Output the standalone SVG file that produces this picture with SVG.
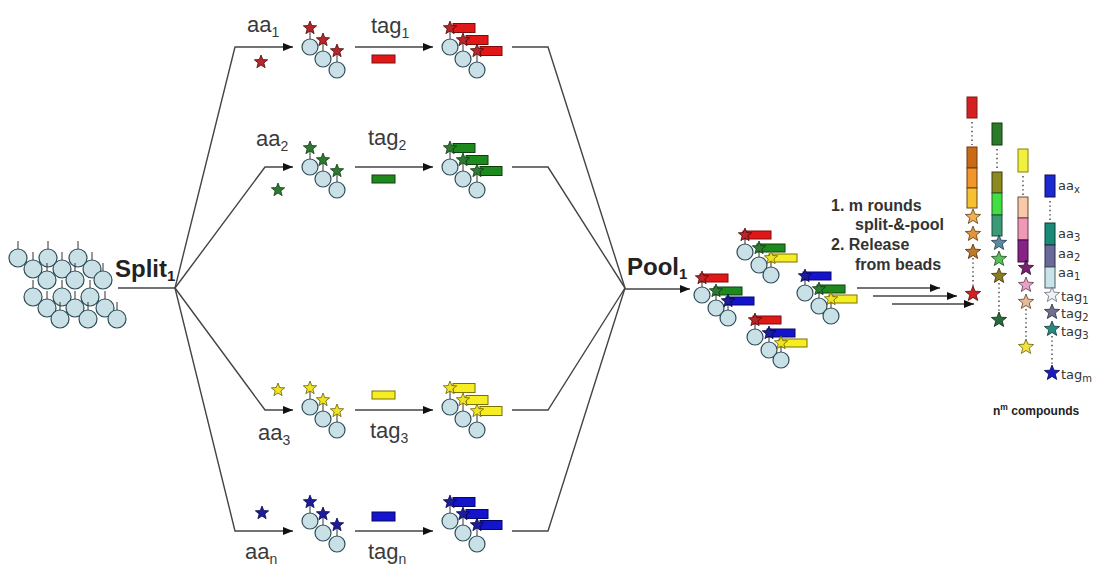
<svg xmlns="http://www.w3.org/2000/svg" xmlns:xlink="http://www.w3.org/1999/xlink" width="1101" height="568" viewBox="0 0 1101 568">
<style>
  .ln{fill:none;stroke:#444;stroke-width:1.4}
  .arr{marker-end:url(#ah)}
  .bead{fill:#c9e1e6;stroke:#2f4d58;stroke-width:1.2}
  .stem{stroke:#333;stroke-width:1}
  .dots{stroke:#555;stroke-width:1.6;stroke-dasharray:1.4 3}
  .lbl{font-family:"Liberation Sans",Arial,sans-serif;font-size:22px;fill:#3a3a3a}
  .big{font-family:"Liberation Sans",Arial,sans-serif;font-size:24px;font-weight:bold;fill:#222}
  .note{font-family:"Liberation Sans",Arial,sans-serif;font-size:16px;font-weight:bold;fill:#333}
  .sm{font-family:"DejaVu Sans",Verdana,sans-serif;font-size:13px;fill:#333}
  .cR{fill:#b8262c;stroke:#4a0a0a;stroke-width:0.8}
  .cG{fill:#2e7a32;stroke:#123a14;stroke-width:0.8}
  .cY{fill:#eee424;stroke:#6a5e00;stroke-width:0.8}
  .cB{fill:#1c1c9c;stroke:#08084a;stroke-width:0.8}
  .tR{fill:#e01818;stroke:#7a0e0e;stroke-width:1}
  .tG{fill:#1e8a1e;stroke:#0a400a;stroke-width:1}
  .tY{fill:#f6ee22;stroke:#7a7000;stroke-width:1}
  .tB{fill:#1414cc;stroke:#06066a;stroke-width:1}
  .blk{stroke-width:1}
</style>
<defs>
  <marker id="ah" markerUnits="userSpaceOnUse" markerWidth="10" markerHeight="8" refX="10" refY="4" orient="auto">
    <path d="M0,0 L10,4 L0,8 Z" fill="#111"/>
  </marker>
  <path id="star" d="M0,-7 L1.76,-2.43 6.66,-2.16 2.85,0.93 4.11,5.66 0,3 -4.11,5.66 -2.85,0.93 -6.66,-2.16 -1.76,-2.43Z"/>
  <path id="starL" d="M0,-8 L2,-2.8 7.6,-2.5 3.25,1.06 4.7,6.47 0,3.45 -4.7,6.47 -3.25,1.06 -7.6,-2.5 -2,-2.8Z"/>
  <circle id="bd" class="bead" r="8"/>
  <!-- three beads in a diagonal chain, each with a linker stem -->
  <g id="trio">
    <path class="stem" d="M0,-8V-19M13,4V-7M27,15V4"/>
    <use xlink:href="#bd"/>
    <use xlink:href="#bd" x="13" y="12"/>
    <use xlink:href="#bd" x="27" y="23"/>
  </g>
  <g id="ptrio">
    <path class="stem" d="M0,-8V-17M14,5V-4M26,15V6"/>
    <use xlink:href="#bd"/>
    <use xlink:href="#bd" x="14" y="13"/>
    <use xlink:href="#bd" x="26" y="23"/>
  </g>
  <!-- loose bead of the starting pile -->
  <g id="pb">
    <line class="stem" y1="-9" y2="-17"/>
    <circle class="bead" r="9"/>
  </g>
</defs>

<rect width="1101" height="568" fill="#fff"/>

<!-- starting bead pile -->
<g id="pile">
  <use xlink:href="#pb" x="18" y="258"/><use xlink:href="#pb" x="48" y="258"/><use xlink:href="#pb" x="78" y="258"/>
  <use xlink:href="#pb" x="33" y="269"/><use xlink:href="#pb" x="62" y="269"/><use xlink:href="#pb" x="92" y="269"/>
  <use xlink:href="#pb" x="47" y="280"/><use xlink:href="#pb" x="75" y="280"/><use xlink:href="#pb" x="103" y="280"/>
  <use xlink:href="#pb" x="33" y="297"/><use xlink:href="#pb" x="62" y="297"/><use xlink:href="#pb" x="90" y="297"/>
  <use xlink:href="#pb" x="47" y="308"/><use xlink:href="#pb" x="75" y="308"/><use xlink:href="#pb" x="105" y="308"/>
  <use xlink:href="#pb" x="60" y="319"/><use xlink:href="#pb" x="88" y="319"/><use xlink:href="#pb" x="117" y="319"/>
</g>

<g id="split">
  <text class="big" x="115" y="277">Split<tspan font-size="15" dy="4">1</tspan></text>
</g>
<g id="pool">
  <text class="big" x="627" y="275">Pool<tspan font-size="15" dy="4">1</tspan></text>
</g>

<!-- connectors -->
<g id="connectors">
  <path class="ln" d="M118,288 H175"/>
  <path class="ln arr" d="M175,288 L235,47 H293"/>
  <path class="ln arr" d="M175,288 L265,167 H293"/>
  <path class="ln arr" d="M175,288 L265,410 H293"/>
  <path class="ln arr" d="M175,288 L235,531 H293"/>
  <path class="ln arr" d="M355,47 H433"/>
  <path class="ln arr" d="M355,167 H433"/>
  <path class="ln arr" d="M355,410 H433"/>
  <path class="ln arr" d="M355,531 H433"/>
  <path class="ln" d="M512,47 H548 L625,288"/>
  <path class="ln" d="M512,167 H548 L625,288"/>
  <path class="ln" d="M512,410 H548 L625,288"/>
  <path class="ln" d="M512,531 H548 L625,288"/>
  <path class="ln arr" d="M625,289 H690"/>
  <path class="ln arr" d="M857,288 H940"/>
  <path class="ln arr" d="M873,296 H957"/>
  <path class="ln arr" d="M892,304 H974"/>
</g>

<!-- branch 1 -->
<g id="row1">
  <text class="lbl" x="247" y="32">aa<tspan font-size="14" dy="5">1</tspan></text>
  <use xlink:href="#star" class="cR" x="261" y="62"/>
  <text class="lbl" x="371" y="33">tag<tspan font-size="14" dy="5">1</tspan></text>
  <rect class="tR" x="372" y="55" width="23" height="8"/>
  <g transform="translate(310,47)">
    <use xlink:href="#trio"/>
    <use xlink:href="#star" class="cR" y="-19"/><use xlink:href="#star" class="cR" x="13" y="-7"/><use xlink:href="#star" class="cR" x="27" y="4"/>
  </g>
  <g transform="translate(450,47)">
    <use xlink:href="#trio"/>
    <rect class="tR" x="3" y="-23.5" width="22" height="9"/><rect class="tR" x="16" y="-11.5" width="22" height="9"/><rect class="tR" x="30" y="-0.5" width="22" height="9"/>
    <use xlink:href="#star" class="cR" y="-19"/><use xlink:href="#star" class="cR" x="13" y="-7"/><use xlink:href="#star" class="cR" x="27" y="4"/>
  </g>
</g>

<!-- branch 2 -->
<g id="row2">
  <text class="lbl" x="256" y="146">aa<tspan font-size="14" dy="5">2</tspan></text>
  <use xlink:href="#star" class="cG" x="278" y="190"/>
  <text class="lbl" x="368" y="145">tag<tspan font-size="14" dy="5">2</tspan></text>
  <rect class="tG" x="372" y="175" width="23" height="8"/>
  <g transform="translate(310,167)">
    <use xlink:href="#trio"/>
    <use xlink:href="#star" class="cG" y="-19"/><use xlink:href="#star" class="cG" x="13" y="-7"/><use xlink:href="#star" class="cG" x="27" y="4"/>
  </g>
  <g transform="translate(450,167)">
    <use xlink:href="#trio"/>
    <rect class="tG" x="3" y="-23.5" width="22" height="9"/><rect class="tG" x="16" y="-11.5" width="22" height="9"/><rect class="tG" x="30" y="-0.5" width="22" height="9"/>
    <use xlink:href="#star" class="cG" y="-19"/><use xlink:href="#star" class="cG" x="13" y="-7"/><use xlink:href="#star" class="cG" x="27" y="4"/>
  </g>
</g>

<!-- branch 3 -->
<g id="row3">
  <text class="lbl" x="258" y="440">aa<tspan font-size="14" dy="5">3</tspan></text>
  <use xlink:href="#star" class="cY" x="278" y="390"/>
  <text class="lbl" x="370" y="438">tag<tspan font-size="14" dy="5">3</tspan></text>
  <rect class="tY" x="372" y="391" width="23" height="8"/>
  <g transform="translate(310,407)">
    <use xlink:href="#trio"/>
    <use xlink:href="#star" class="cY" y="-19"/><use xlink:href="#star" class="cY" x="13" y="-7"/><use xlink:href="#star" class="cY" x="27" y="4"/>
  </g>
  <g transform="translate(450,407)">
    <use xlink:href="#trio"/>
    <rect class="tY" x="3" y="-23.5" width="22" height="9"/><rect class="tY" x="16" y="-11.5" width="22" height="9"/><rect class="tY" x="30" y="-0.5" width="22" height="9"/>
    <use xlink:href="#star" class="cY" y="-19"/><use xlink:href="#star" class="cY" x="13" y="-7"/><use xlink:href="#star" class="cY" x="27" y="4"/>
  </g>
</g>

<!-- branch n -->
<g id="rowN">
  <text class="lbl" x="245" y="559">aa<tspan font-size="14" dy="5">n</tspan></text>
  <use xlink:href="#star" class="cB" x="262" y="513"/>
  <text class="lbl" x="368" y="559">tag<tspan font-size="14" dy="5">n</tspan></text>
  <rect class="tB" x="372" y="512" width="23" height="9"/>
  <g transform="translate(310,521)">
    <use xlink:href="#trio"/>
    <use xlink:href="#star" class="cB" y="-19"/><use xlink:href="#star" class="cB" x="13" y="-7"/><use xlink:href="#star" class="cB" x="27" y="4"/>
  </g>
  <g transform="translate(450,521)">
    <use xlink:href="#trio"/>
    <rect class="tB" x="3" y="-23.5" width="22" height="9"/><rect class="tB" x="16" y="-11.5" width="22" height="9"/><rect class="tB" x="30" y="-0.5" width="22" height="9"/>
    <use xlink:href="#star" class="cB" y="-19"/><use xlink:href="#star" class="cB" x="13" y="-7"/><use xlink:href="#star" class="cB" x="27" y="4"/>
  </g>
</g>

<!-- pooled beads carrying mixed building blocks -->
<g id="pooled">
  <g transform="translate(745,252)">
    <use xlink:href="#ptrio"/>
    <rect class="tR" x="-2" y="-21" width="28" height="8"/><rect class="tG" x="12" y="-8" width="28" height="8"/><rect class="tY" x="24" y="2" width="28" height="8"/>
    <use xlink:href="#star" class="cR" y="-17"/><use xlink:href="#star" class="cG" x="14" y="-4"/><use xlink:href="#star" class="cY" x="26" y="6"/>
  </g>
  <g transform="translate(702,295)">
    <use xlink:href="#ptrio"/>
    <rect class="tR" x="-2" y="-21" width="28" height="8"/><rect class="tG" x="12" y="-8" width="28" height="8"/><rect class="tB" x="24" y="2" width="28" height="8"/>
    <use xlink:href="#star" class="cR" y="-17"/><use xlink:href="#star" class="cG" x="14" y="-4"/><use xlink:href="#star" class="cB" x="26" y="6"/>
  </g>
  <g transform="translate(805,293)">
    <use xlink:href="#ptrio"/>
    <rect class="tB" x="-2" y="-21" width="28" height="8"/><rect class="tG" x="12" y="-8" width="28" height="8"/><rect class="tY" x="24" y="2" width="28" height="8"/>
    <use xlink:href="#star" class="cB" y="-17"/><use xlink:href="#star" class="cG" x="14" y="-4"/><use xlink:href="#star" class="cY" x="26" y="6"/>
  </g>
  <g transform="translate(755,337)">
    <use xlink:href="#ptrio"/>
    <rect class="tR" x="-2" y="-21" width="28" height="8"/><rect class="tB" x="12" y="-8" width="28" height="8"/><rect class="tY" x="24" y="2" width="28" height="8"/>
    <use xlink:href="#star" class="cR" y="-17"/><use xlink:href="#star" class="cB" x="14" y="-4"/><use xlink:href="#star" class="cY" x="26" y="6"/>
  </g>
</g>

<g id="steps">
  <text class="note" x="831" y="211">1. m rounds</text>
  <text class="note" x="855" y="230">split-&amp;-pool</text>
  <text class="note" x="831" y="250">2. Release</text>
  <text class="note" x="855" y="270">from beads</text>
</g>

<!-- released compounds -->
<g id="compound1">
  <rect x="967" y="97" width="10" height="21" fill="#d42020" stroke="#7a1a1a" class="blk"/>
  <line class="dots" x1="972" y1="122" x2="972" y2="145"/>
  <rect x="967" y="147" width="10" height="21" fill="#c86a18" stroke="#6a3a10" class="blk"/>
  <rect x="967" y="168" width="10" height="20" fill="#f0962a" stroke="#6a3a10" class="blk"/>
  <rect x="967" y="188" width="10" height="20" fill="#f5c032" stroke="#6a4a10" class="blk"/>
  <line class="dots" x1="973" y1="258" x2="973" y2="288"/>
  <use xlink:href="#starL" x="973" y="217" fill="#f0b050" stroke="#5a3a10" stroke-width="0.8"/>
  <use xlink:href="#starL" x="973" y="234" fill="#e39538" stroke="#5a3a10" stroke-width="0.8"/>
  <use xlink:href="#starL" x="973" y="252" fill="#c07a28" stroke="#4a2a08" stroke-width="0.8"/>
  <use xlink:href="#starL" x="973" y="294" fill="#cc2222" stroke="#4a0a0a" stroke-width="0.8"/>
</g>
<g id="compound2">
  <rect x="992" y="123" width="10" height="22" fill="#2a7a2a" stroke="#123a12" class="blk"/>
  <line class="dots" x1="997" y1="149" x2="997" y2="170"/>
  <rect x="992" y="172" width="10" height="21" fill="#8a8a20" stroke="#3a3a10" class="blk"/>
  <rect x="992" y="193" width="10" height="22" fill="#40e040" stroke="#2a5a2a" class="blk"/>
  <rect x="992" y="215" width="10" height="21" fill="#3a9a78" stroke="#1a4a3a" class="blk"/>
  <line class="dots" x1="999" y1="283" x2="999" y2="314"/>
  <use xlink:href="#starL" x="999" y="243" fill="#5a8aa0" stroke="#1a3a4a" stroke-width="0.8"/>
  <use xlink:href="#starL" x="999" y="259" fill="#58c058" stroke="#1a4a1a" stroke-width="0.8"/>
  <use xlink:href="#starL" x="999" y="276" fill="#8a7a20" stroke="#3a3008" stroke-width="0.8"/>
  <use xlink:href="#starL" x="999" y="320" fill="#2a6a3a" stroke="#0a2a10" stroke-width="0.8"/>
</g>
<g id="compound3">
  <rect x="1018" y="149" width="10" height="23" fill="#f0f040" stroke="#8a8000" class="blk"/>
  <line class="dots" x1="1023" y1="176" x2="1023" y2="195"/>
  <rect x="1018" y="197" width="10" height="21" fill="#f8c8a8" stroke="#6a4a3a" class="blk"/>
  <rect x="1018" y="218" width="10" height="22" fill="#f098b8" stroke="#6a3a4a" class="blk"/>
  <rect x="1018" y="240" width="10" height="22" fill="#882288" stroke="#3a0a3a" class="blk"/>
  <line class="dots" x1="1026" y1="309" x2="1026" y2="341"/>
  <use xlink:href="#starL" x="1026" y="268" fill="#7a2070" stroke="#2a0a2a" stroke-width="0.8"/>
  <use xlink:href="#starL" x="1026" y="285" fill="#e8a0c8" stroke="#5a3a4a" stroke-width="0.8"/>
  <use xlink:href="#starL" x="1026" y="302" fill="#e8b898" stroke="#5a4030" stroke-width="0.8"/>
  <use xlink:href="#starL" x="1026" y="347" fill="#f0e040" stroke="#6a6000" stroke-width="0.8"/>
</g>
<g id="compound4">
  <rect x="1045" y="175" width="10" height="22" fill="#1a2ad0" stroke="#0a0a5a" class="blk"/>
  <line class="dots" x1="1050" y1="201" x2="1050" y2="221"/>
  <rect x="1045" y="223" width="10" height="22" fill="#1a8a78" stroke="#0a3a30" class="blk"/>
  <rect x="1045" y="245" width="10" height="22" fill="#6a6a98" stroke="#2a2a4a" class="blk"/>
  <rect x="1045" y="267" width="10" height="21" fill="#c8e4ea" stroke="#4a5a60" class="blk"/>
  <line class="dots" x1="1052" y1="336" x2="1052" y2="367"/>
  <use xlink:href="#starL" x="1052" y="295" fill="#eef2f4" stroke="#6a6a7a" stroke-width="0.8"/>
  <use xlink:href="#starL" x="1052" y="312" fill="#707090" stroke="#2a2a3a" stroke-width="0.8"/>
  <use xlink:href="#starL" x="1052" y="329" fill="#2a8a80" stroke="#0a3a30" stroke-width="0.8"/>
  <use xlink:href="#starL" x="1052" y="373" fill="#1a1ac8" stroke="#08084a" stroke-width="0.8"/>
  <text class="sm" x="1058" y="190">aa<tspan font-size="10" dy="3">x</tspan></text>
  <text class="sm" x="1058" y="238">aa<tspan font-size="10" dy="3">3</tspan></text>
  <text class="sm" x="1058" y="258">aa<tspan font-size="10" dy="3">2</tspan></text>
  <text class="sm" x="1058" y="277">aa<tspan font-size="10" dy="3">1</tspan></text>
  <text class="sm" x="1061" y="301">tag<tspan font-size="10" dy="3">1</tspan></text>
  <text class="sm" x="1061" y="318">tag<tspan font-size="10" dy="3">2</tspan></text>
  <text class="sm" x="1061" y="336">tag<tspan font-size="10" dy="3">3</tspan></text>
  <text class="sm" x="1061" y="379">tag<tspan font-size="10" dy="3">m</tspan></text>
</g>

<g id="caption">
  <text x="993" y="415" font-family="'Liberation Sans',Arial,sans-serif" font-size="12" font-weight="bold" fill="#222">n<tspan font-size="8.5" dy="-5">m</tspan><tspan dy="5"> compounds</tspan></text>
</g>
</svg>
